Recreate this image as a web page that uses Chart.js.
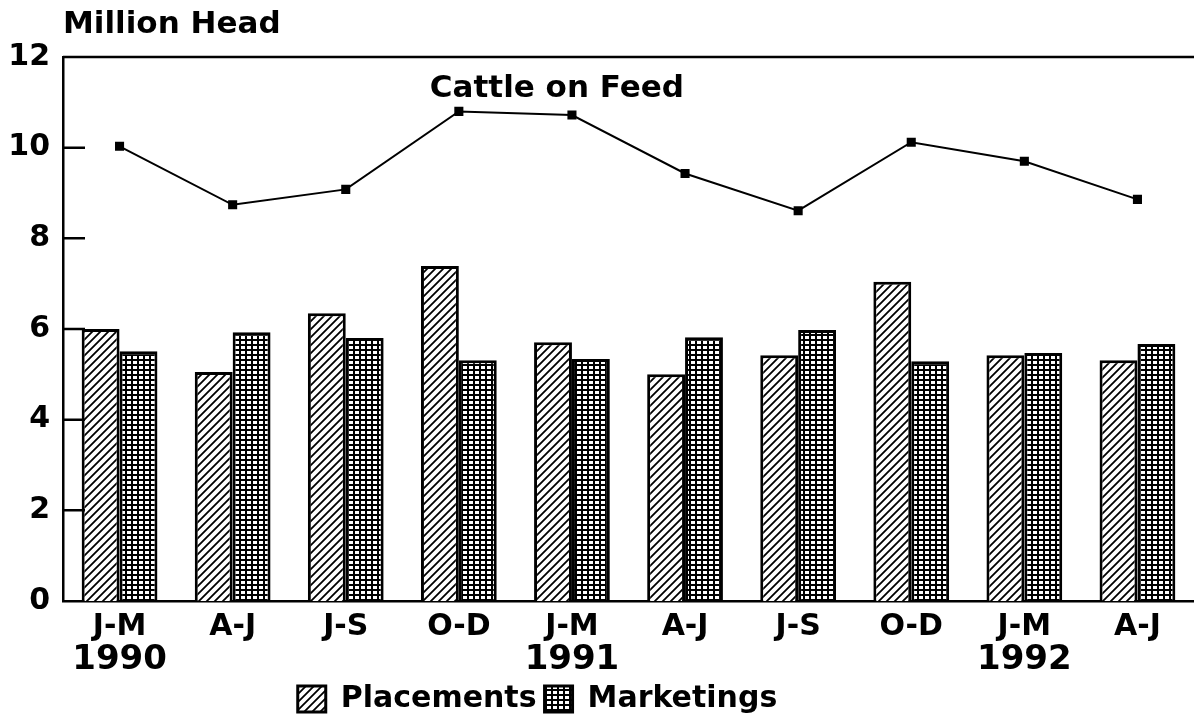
<!DOCTYPE html>
<html>
<head>
<meta charset="utf-8">
<script src="https://cdn.jsdelivr.net/npm/chart.js@4/dist/chart.umd.min.js"></script>
<style>
  body { margin: 0; background: #fff; }
  canvas { display: block; }
</style>
</head>
<body>
<canvas id="cattleChart" width="1194" height="718"></canvas>
<script>
// quarters, with the year shown under the first quarter
const quarters = ['J-M', 'A-J', 'J-S', 'O-D', 'J-M', 'A-J', 'J-S', 'O-D', 'J-M', 'A-J'];
const years = ['1990', '', '', '', '1991', '', '', '', '1992', ''];

// million head
const placements = [6.0, 5.05, 6.35, 7.39, 5.71, 5.0, 5.42, 7.04, 5.42, 5.31];
const marketings = [5.51, 5.93, 5.80, 5.31, 5.34, 5.82, 5.98, 5.29, 5.47, 5.67];
const cattleOnFeed = [10.03, 8.74, 9.08, 10.8, 10.72, 9.43, 8.61, 10.12, 9.70, 8.86];

const yTicks = [0, 2, 4, 6, 8, 10, 12];

const FONT = 'DejaVu Sans';

function hatchPattern() {
    let c = document.createElement('canvas');
    c.width = 8; c.height = 8;
    let g = c.getContext('2d');
    g.fillStyle = '#fff';
    g.fillRect(0, 0, 8, 8);
    g.strokeStyle = '#000';
    g.lineWidth = 1.8;
    g.beginPath();
    g.moveTo(-1, 9); g.lineTo(9, -1);
    g.moveTo(-2, 2); g.lineTo(2, -2);
    g.moveTo(6, 10); g.lineTo(10, 6);
    g.stroke();
    return g.createPattern(c, 'repeat');
}

function gridPattern() {
    let c = document.createElement('canvas');
    c.width = 6; c.height = 5;
    let g = c.getContext('2d');
    g.fillStyle = '#000';
    g.fillRect(0, 0, 6, 5);
    g.fillStyle = '#fff';
    g.fillRect(1, 1, 4, 3);
    return g.createPattern(c, 'repeat');
}

// frame, inward tick marks and free text
const extras = {
    id: 'extras',
    afterLayout(chart) {
        // legend sits left of centre and a bit lower in the original
        let lg = chart.legend;
        lg.left -= 61;
        lg.right -= 61;
        lg.top += 6;
        lg.bottom += 6;
    },
    afterDatasetsDraw(chart) {
        let ctx = chart.ctx;
        let area = chart.chartArea;
        let y = chart.scales.y;
        let x = chart.scales.x;
        ctx.save();
        ctx.strokeStyle = '#000';
        ctx.lineWidth = 2.5;
        ctx.beginPath();
        ctx.moveTo(area.left, area.top);
        ctx.lineTo(area.right, area.top);
        for (let v of yTicks) {
            if (v === 0 || v === 12) continue;
            let py = y.getPixelForValue(v);
            ctx.moveTo(area.left, py);
            ctx.lineTo(area.left + 22, py);
        }
        ctx.stroke();

        ctx.fillStyle = '#000';
        ctx.font = 'bold 31px "' + FONT + '"';
        ctx.textBaseline = 'middle';
        ctx.textAlign = 'left';
        ctx.fillText('Million Head', area.left, 25);
        ctx.fillText('Cattle on Feed', x.getPixelForValue(3) - 29, y.getPixelForValue(11.3));
        ctx.restore();
    }
};

const ctx = document.getElementById('cattleChart');
const chart = new Chart(ctx, {
    type: 'bar',
    data: {
        labels: quarters,
        datasets: [
            {
                type: 'line',
                label: 'Cattle on Feed',
                data: cattleOnFeed,
                borderColor: '#000',
                borderWidth: 2,
                backgroundColor: '#000',
                pointStyle: 'rect',
                pointRadius: 5,
                tension: 0,
                order: 0
            },
            {
                label: 'Placements',
                data: placements,
                backgroundColor: hatchPattern(),
                borderColor: '#000',
                borderWidth: 3,
                order: 1
            },
            {
                label: 'Marketings',
                data: marketings,
                backgroundColor: gridPattern(),
                borderColor: '#000',
                borderWidth: 3,
                order: 1
            }
        ]
    },
    options: {
        responsive: false,
        animation: false,
        layout: {
            autoPadding: false,
            padding: { top: 57, left: 0, right: -3, bottom: 0 }
        },
        datasets: {
            bar: { barPercentage: 1, categoryPercentage: 0.67 }
        },
        scales: {
            x: {
                grid: { display: false },
                border: { display: true, color: '#000', width: 2.5 },
                ticks: {
                    color: '#000',
                    padding: 0,
                    maxRotation: 0,
                    font: { family: FONT, size: 30, weight: 'bold', lineHeight: 1.2 }
                },
                afterFit(scale) { scale.height = 40; }
            },
            x2: {
                type: 'category',
                labels: years,
                position: 'bottom',
                weight: 1,
                grid: { display: false },
                border: { display: false },
                ticks: {
                    color: '#000',
                    padding: -6,
                    maxRotation: 0,
                    autoSkip: false,
                    font: { family: FONT, size: 34, weight: 'bold', lineHeight: 1.0 }
                },
                afterFit(scale) { scale.height = 29; }
            },
            y: {
                min: 0,
                max: 12,
                grid: { display: false },
                border: { display: true, color: '#000', width: 2.5 },
                ticks: {
                    stepSize: 2,
                    color: '#000',
                    padding: 5,
                    font: { family: FONT, size: 30, weight: 'bold' }
                },
                afterFit(scale) { scale.width = 63; }
            }
        },
        plugins: {
            legend: {
                position: 'bottom',
                labels: {
                    color: '#000',
                    boxWidth: 28,
                    boxHeight: 26,
                    padding: 8,
                    font: { family: FONT, size: 30, weight: 'bold' },
                    filter: (item) => item.text !== 'Cattle on Feed'
                }
            },
            tooltip: { enabled: false }
        }
    },
    plugins: [extras]
});
</script>
</body>
</html>
